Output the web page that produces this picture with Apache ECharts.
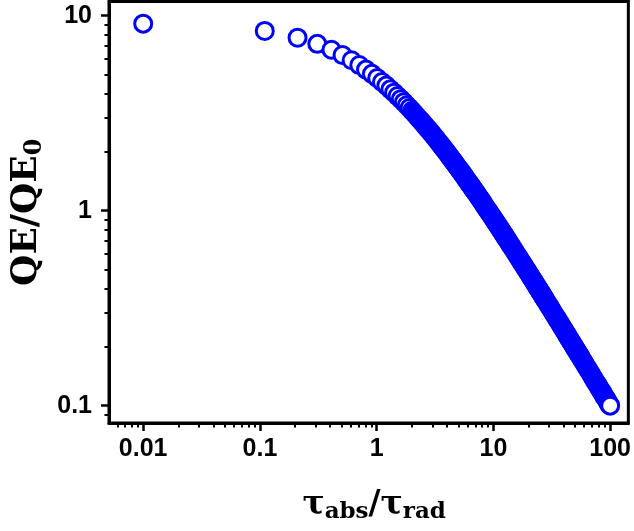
<!DOCTYPE html>
<html><head><meta charset="utf-8">
<script src="https://cdn.jsdelivr.net/npm/echarts@6/dist/echarts.min.js"></script>
<style>html,body{margin:0;padding:0;background:#fff}#c{width:634px;height:531px}</style>
</head><body><div id="c"></div>
<script>
// tau_abs / tau_rad values (x)
const tauRatio = [
0.01,0.11,0.21,0.31,0.41,0.51,0.61,0.71,0.81,0.91,
1.01,1.11,1.21,1.31,1.41,1.51,1.61,1.71,1.81,1.91,
2.01,2.11,2.21,2.31,2.41,2.51,2.61,2.71,2.81,2.91,
3.01,3.11,3.21,3.31,3.41,3.51,3.61,3.71,3.81,3.91,
4.01,4.11,4.21,4.31,4.41,4.51,4.61,4.71,4.81,4.91,
5.01,5.11,5.21,5.31,5.41,5.51,5.61,5.71,5.81,5.91,
6.01,6.11,6.21,6.31,6.41,6.51,6.61,6.71,6.81,6.91,
7.01,
7.2,7.4,7.6,7.8,8.0,8.2,8.4,8.6,8.8,9.0,9.2,9.4,9.6,9.8,10.0,10.2,10.4,10.6,10.8,11.0,11.2,11.4,11.6,11.8,12.0,12.2,12.4,12.6,12.8,13.0,13.2,13.4,13.6,13.8,14.0,
14.4,14.8,15.2,15.6,16.0,16.4,16.8,17.2,17.6,18.0,18.4,18.8,19.2,19.6,20.0,20.4,20.8,21.2,21.6,22.0,22.4,22.8,23.2,23.6,24.0,24.4,24.8,25.2,25.6,26.0,26.4,26.8,27.2,27.6,28.0,
28.8,29.6,30.4,31.2,32.0,32.8,33.6,34.4,35.2,36.0,36.8,37.6,38.4,39.2,40.0,40.8,41.6,42.4,43.2,44.0,44.8,45.6,46.4,47.2,48.0,48.8,49.6,50.4,51.2,52.0,52.8,53.6,54.4,55.2,56.0,
57.6,59.2,60.8,62.4,64.0,65.6,67.2,68.8,70.4,72.0,73.6,75.2,76.8,78.4,80.0,81.6,83.2,84.8,86.4,88.0,89.6,91.2,92.8,94.4,96.0,97.6,99.2,100
];
// QE / QE0 values (y)
const qeRatio = [
9.10,8.35,7.71,7.17,6.69,6.28,5.91,5.58,5.29,5.03,
4.79,4.57,4.38,4.19,4.03,3.87,3.73,3.60,3.47,3.36,
3.25,3.15,3.05,2.96,2.88,2.80,2.72,2.65,2.59,2.52,
2.46,2.40,2.35,2.29,2.24,2.19,2.15,2.10,2.06,2.02,
1.98,1.94,1.90,1.87,1.83,1.80,1.77,1.74,1.71,1.68,
1.65,1.63,1.60,1.58,1.55,1.53,1.51,1.48,1.46,1.44,
1.42,1.40,1.38,1.36,1.35,1.33,1.31,1.29,1.28,1.26,
1.25,
1.22,1.19,1.16,1.14,1.11,1.09,1.06,1.04,1.02,1.00,
0.981,0.963,0.945,0.927,0.911,0.895,0.879,0.864,0.850,0.835,
0.822,0.809,0.796,0.784,0.772,0.760,0.749,0.738,0.727,0.717,
0.707,0.697,0.688,0.678,0.669,
0.652,0.636,0.620,0.605,0.591,0.578,0.565,0.552,0.541,0.529,
0.518,0.508,0.498,0.488,0.479,0.470,0.462,0.453,0.445,0.438,
0.430,0.423,0.416,0.409,0.403,0.396,0.390,0.384,0.379,0.373,
0.368,0.362,0.357,0.352,0.347,
0.338,0.329,0.321,0.313,0.305,0.298,0.291,0.285,0.279,0.272,
0.267,0.261,0.256,0.251,0.246,0.241,0.237,0.232,0.228,0.224,
0.220,0.216,0.213,0.209,0.206,0.203,0.199,0.196,0.193,0.190,
0.188,0.185,0.182,0.180,0.177,
0.172,0.168,0.163,0.159,0.155,0.152,0.148,0.145,0.141,0.138,
0.135,0.132,0.130,0.127,0.125,0.122,0.120,0.118,0.116,0.113,
0.111,0.110,0.108,0.106,0.104,0.102,0.101,0.100
];
const xTickValues = [0.01, 0.1, 1, 10, 100];
const xTickLabels = ['0.01', '0.1', '1', '10', '100'];
const xMinorTicks = [0.006,0.007,0.008,0.009,0.02,0.03,0.04,0.05,0.06,0.07,0.08,0.09,
  0.2,0.3,0.4,0.5,0.6,0.7,0.8,0.9,2,3,4,5,6,7,8,9,20,30,40,50,60,70,80,90];
const yTickValues = [0.1, 1, 10];
const yTickLabels = ['0.1', '1', '10'];
const yMinorTicks = [0.09,0.2,0.3,0.4,0.5,0.6,0.7,0.8,0.9,2,3,4,5,6,7,8,9];

const X_MIN = 0.005094, X_MAX = 143.2, Y_MIN = 0.0815, Y_MAX = 11.82;
const BLUE = '#0000ff';

function labelFor(values, labels) {
  return function (v) {
    for (let i = 0; i < values.length; i++) {
      if (Math.abs(Math.log10(values[i]) - Math.log10(v)) < 1e-6) return labels[i];
    }
    return '';
  };
}
const labelFont = { fontFamily: 'Liberation Sans, Arial, sans-serif', fontWeight: 'bold', fontSize: 25, color: '#000' };
const serif = 'DejaVu Serif, serif';

// dense overlapping markers merge into a solid band; keep white centres where rings stand apart
const points = tauRatio.map((x, i) => {
  const dense = x >= 2 && i < tauRatio.length - 1;
  return {
    value: [x, qeRatio[i]],
    itemStyle: { color: dense ? BLUE : '#ffffff', borderColor: BLUE, borderWidth: 3, opacity: 1 }
  };
});

const chart = echarts.init(document.getElementById('c'), null, { renderer: 'canvas' });
chart.setOption({
  backgroundColor: '#ffffff',
  animation: false,
  grid: { left: 109, top: 1.5, width: 521, height: 421.5, show: true, borderColor: '#000', borderWidth: 3, backgroundColor: 'transparent' },
  xAxis: [
    {
      type: 'log', logBase: 10, min: X_MIN, max: X_MAX, position: 'bottom',
      axisLine: { show: true, lineStyle: { color: '#000', width: 3 } },
      axisTick: { show: true, inside: false, length: 8, lineStyle: { color: '#000', width: 2.5 }, customValues: xTickValues },
      axisLabel: Object.assign({ show: true, margin: 14, customValues: xTickValues, formatter: labelFor(xTickValues, xTickLabels) }, labelFont),
      splitLine: { show: false }, minorTick: { show: false }, minorSplitLine: { show: false },
      name: '{t|τ}{s|abs}{t|/τ}{s|rad}', nameLocation: 'middle', nameGap: 63,
      nameTextStyle: {
        padding: [0, 0, 0, 11],
        rich: {
          t: { fontFamily: serif, fontWeight: 'bold', fontSize: 33, color: '#000' },
          s: { fontFamily: serif, fontWeight: 'bold', fontSize: 23, color: '#000', padding: [15, 0, 0, 0] }
        }
      }
    },
    {
      type: 'log', logBase: 10, min: X_MIN, max: X_MAX, position: 'bottom',
      axisLine: { show: false },
      axisTick: { show: true, inside: false, length: 4.5, lineStyle: { color: '#000', width: 2 }, customValues: xMinorTicks },
      axisLabel: { show: false }, splitLine: { show: false }
    }
  ],
  yAxis: [
    {
      type: 'log', logBase: 10, min: Y_MIN, max: Y_MAX, position: 'left',
      axisLine: { show: true, lineStyle: { color: '#000', width: 3 } },
      axisTick: { show: true, inside: false, length: 8, lineStyle: { color: '#000', width: 2.5 }, customValues: yTickValues },
      axisLabel: Object.assign({ show: true, margin: 17, customValues: yTickValues, formatter: labelFor(yTickValues, yTickLabels) }, labelFont),
      splitLine: { show: false },
      name: '{m|QE/QE}{s|0}', nameLocation: 'middle', nameGap: 62,
      nameTextStyle: {
        rich: {
          m: { fontFamily: serif, fontWeight: 'bold', fontSize: 36, color: '#000' },
          s: { fontFamily: serif, fontWeight: 'bold', fontSize: 24, color: '#000', padding: [15, 0, 0, 0] }
        }
      }
    },
    {
      type: 'log', logBase: 10, min: Y_MIN, max: Y_MAX, position: 'left',
      axisLine: { show: false },
      axisTick: { show: true, inside: false, length: 4.5, lineStyle: { color: '#000', width: 2 }, customValues: yMinorTicks },
      axisLabel: { show: false }, splitLine: { show: false }
    }
  ],
  series: [{
    type: 'scatter',
    xAxisIndex: 0, yAxisIndex: 0,
    data: points,
    symbol: 'circle', symbolSize: 17,
    itemStyle: { color: '#ffffff', borderColor: BLUE, borderWidth: 3, opacity: 1 },
    emphasis: { disabled: true },
    large: false, progressive: 0
  }]
});
</script></body></html>
